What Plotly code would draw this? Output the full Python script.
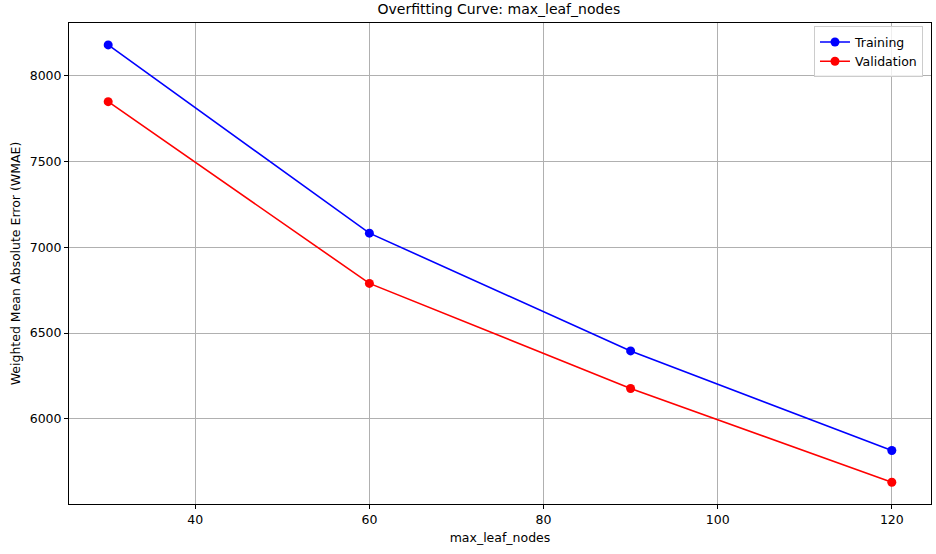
import plotly.graph_objects as go

max_leaf_nodes = [30, 60, 90, 120]
training_wmae = [8181, 7083, 6396, 5815]
validation_wmae = [7850, 6790, 6177, 5630]

fig = go.Figure()
fig.add_trace(go.Scatter(x=max_leaf_nodes, y=training_wmae, mode="lines+markers",
                         name="Training", line=dict(color="blue", width=1.6),
                         marker=dict(color="blue", size=9)))
fig.add_trace(go.Scatter(x=max_leaf_nodes, y=validation_wmae, mode="lines+markers",
                         name="Validation", line=dict(color="red", width=1.6),
                         marker=dict(color="red", size=9)))

axis_common = dict(showline=True, linecolor="black", linewidth=1, mirror=True,
                   ticks="outside", ticklen=4, tickcolor="black",
                   showgrid=True, gridcolor="#b0b0b0", gridwidth=0.8,
                   zeroline=False, automargin=False,
                   tickfont=dict(size=12.5, color="black"))

fig.update_layout(
    width=936, height=554,
    margin=dict(l=69, r=5, t=23, b=50),
    paper_bgcolor="white", plot_bgcolor="white",
    font=dict(family="DejaVu Sans", color="black"),
    title=dict(text="Overfitting Curve: max_leaf_nodes", x=0.533, xanchor="center",
               y=0.983, yanchor="middle", font=dict(size=14)),
    xaxis=dict(title=dict(text="max_leaf_nodes", font=dict(size=12.5), standoff=7),
               range=[25.5, 124.5], tickvals=[40, 60, 80, 100, 120], **axis_common),
    yaxis=dict(title=dict(text="Weighted Mean Absolute Error (WMAE)", font=dict(size=12.5), standoff=6),
               range=[5503, 8309], tickvals=[6000, 6500, 7000, 7500, 8000], **axis_common),
    legend=dict(x=0.9907, y=0.993, xanchor="right", yanchor="top",
                bgcolor="rgba(255,255,255,0.8)", bordercolor="#cccccc", borderwidth=1,
                font=dict(size=12.5)),
    showlegend=True,
)

fig.write_html("out.html", config={"displayModeBar": False},
               post_script="document.body.style.margin='0';")
